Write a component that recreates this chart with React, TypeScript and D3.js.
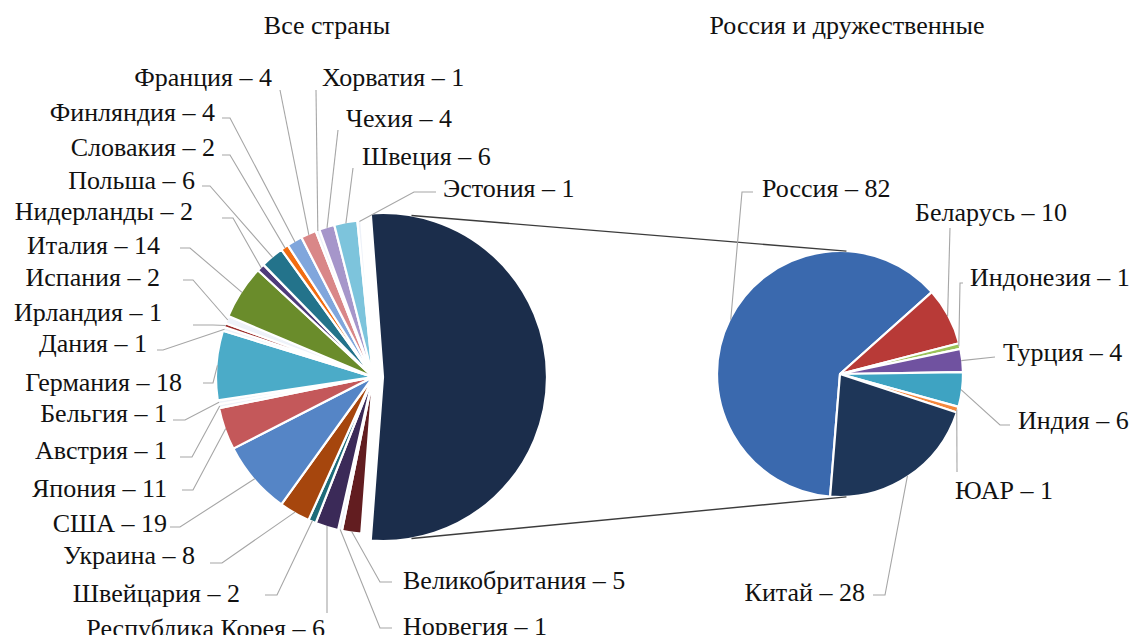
import { useEffect, useRef } from 'react';
import * as d3 from 'd3';

// Все страны (кроме России и дружественных), по часовой стрелке от нижней точки
const allNames = ['Великобритания', 'Норвегия', 'Республика Корея', 'Швейцария', 'Украина', 'США', 'Япония',
  'Австрия', 'Бельгия', 'Германия', 'Дания', 'Ирландия', 'Испания', 'Италия', 'Нидерланды', 'Польша',
  'Словакия', 'Финляндия', 'Франция', 'Хорватия', 'Чехия', 'Швеция', 'Эстония'];
const allValues = [5, 1, 6, 2, 8, 19, 11, 1, 1, 18, 1, 1, 2, 14, 2, 6, 2, 4, 4, 1, 4, 6, 1];

// Россия и дружественные
const friendNames = ['Россия', 'Беларусь', 'Индонезия', 'Турция', 'Индия', 'ЮАР', 'Китай'];
const friendValues = [82, 10, 1, 4, 6, 1, 28];

const titles = ['Все страны', 'Россия и дружественные'];

const LIGHT = '#eef2f9';
const allColors: Record<string, string> = {
  'Великобритания': '#621d20', 'Норвегия': LIGHT, 'Республика Корея': '#3b2a58', 'Швейцария': '#1d6b79',
  'Украина': '#a6460d', 'США': '#5585c6', 'Япония': '#c4585a', 'Австрия': LIGHT, 'Бельгия': LIGHT,
  'Германия': '#4babc8', 'Дания': LIGHT, 'Ирландия': '#9b2d2b', 'Испания': LIGHT, 'Италия': '#6a8c2b',
  'Нидерланды': '#4e3b7a', 'Польша': '#23738b', 'Словакия': '#f26c10', 'Финляндия': '#80a6dc',
  'Франция': '#d98788', 'Хорватия': LIGHT, 'Чехия': '#a696ca', 'Швеция': '#7dc4dc', 'Эстония': LIGHT,
};
const otherColor = '#1b2d4b';
const friendColors: Record<string, string> = {
  'Россия': '#3a69ae', 'Беларусь': '#b83a37', 'Индонезия': '#9bc35a', 'Турция': '#7052a0',
  'Индия': '#3ea3c2', 'ЮАР': '#f5883d', 'Китай': '#1e3658',
};

// расположение подписей: [x текста, y центра, привязка, начало выноски x, y, длина полочки]
const labelLayout: Record<string, [number, number, string, number, number, number]> = {
  'Франция': [272, 77, 'end', 280, 90, 0],
  'Хорватия': [322, 77, 'start', 316, 90, 0],
  'Финляндия': [215, 112, 'end', 222, 118, 8],
  'Чехия': [346, 118, 'start', 338, 130, 0],
  'Словакия': [215, 147, 'end', 222, 155, 8],
  'Швеция': [362, 156, 'start', 353, 168, 0],
  'Польша': [195, 180, 'end', 202, 186, 8],
  'Эстония': [443, 188, 'start', 436, 192, -22],
  'Нидерланды': [193, 211, 'end', 222, 218, 11],
  'Италия': [160, 245, 'end', 180, 248, 10],
  'Испания': [160, 277, 'end', 183, 280, 10],
  'Ирландия': [162, 312, 'end', 193, 325, 20],
  'Дания': [147, 343, 'end', 157, 350, 6],
  'Германия': [182, 382, 'end', 203, 383, 10],
  'Бельгия': [167, 413, 'end', 173, 420, 12],
  'Австрия': [167, 450, 'end', 180, 457, 12],
  'Япония': [167, 488, 'end', 182, 490, 11],
  'США': [167, 523, 'end', 170, 527, 10],
  'Украина': [195, 555, 'end', 210, 563, 12],
  'Швейцария': [240, 593, 'end', 265, 595, 12],
  'Республика Корея': [325, 628, 'end', 327, 613, 0],
  'Великобритания': [403, 580, 'start', 392, 582, -12],
  'Норвегия': [403, 626, 'start', 392, 628, -12],
  'Россия': [762, 188, 'start', 753, 192, -11],
  'Беларусь': [915, 212, 'start', 950, 228, 0],
  'Индонезия': [970, 277, 'start', 963, 283, -3],
  'Турция': [1003, 352, 'start', 995, 357, 0],
  'Индия': [1018, 420, 'start', 1010, 425, -10],
  'ЮАР': [955, 490, 'start', 957, 472, 0],
  'Китай': [865, 592, 'end', 873, 595, 12],
};

const FONT = "'Liberation Serif', 'Times New Roman', serif";
const FONT_SIZE = 26;

const PieOfPie = () => {
  const ref = useRef<SVGSVGElement>(null);

  useEffect(() => {
    if (!ref.current) return;
    const svg = d3.select(ref.current);
    svg.selectAll('*').remove();

    const deg = Math.PI / 180;
    const friendTotal = d3.sum(friendValues);

    // --- Левая диаграмма ---
    const cL = { x: 373, y: 377 };
    const rL = 157;
    const rDark = 164;
    const darkShift = 10;

    const leftData = [{ name: '__other', value: friendTotal },
      ...allNames.map((n, i) => ({ name: n, value: allValues[i] }))];
    const leftTotal = d3.sum(leftData, d => d.value);
    const darkAngle = (friendTotal / leftTotal) * 2 * Math.PI;
    const startL = Math.PI / 2 - darkAngle / 2;

    const pieL = d3.pie<{ name: string; value: number }>().sort(null).value(d => d.value)
      .startAngle(startL).endAngle(startL + 2 * Math.PI);
    const arcsL = pieL(leftData);

    const gL = svg.append('g');
    const arcL = d3.arc<any>().innerRadius(0).outerRadius(rL);
    const arcDark = d3.arc<any>().innerRadius(0).outerRadius(rDark);

    arcsL.forEach(a => {
      const isOther = a.data.name === '__other';
      gL.append('path')
        .attr('transform', `translate(${cL.x + (isOther ? darkShift : 0)},${cL.y})`)
        .attr('d', (isOther ? arcDark : arcL)(a) as string)
        .attr('fill', isOther ? otherColor : allColors[a.data.name])
        .attr('stroke', 'white').attr('stroke-width', 2.2).attr('stroke-linejoin', 'round');
    });

    // --- Правая диаграмма ---
    const cR = { x: 840, y: 374 };
    const rR = 123;
    const startR = 184.6 * deg;
    const pieR = d3.pie<number>().sort(null).startAngle(startR).endAngle(startR + 2 * Math.PI);
    const arcsR = pieR(friendValues);
    const arcR = d3.arc<any>().innerRadius(0).outerRadius(rR);
    const gR = svg.append('g').attr('transform', `translate(${cR.x},${cR.y})`);
    arcsR.forEach((a, i) => {
      gR.append('path').attr('d', arcR(a) as string)
        .attr('fill', friendColors[friendNames[i]])
        .attr('stroke', 'white').attr('stroke-width', 2.2).attr('stroke-linejoin', 'round');
    });

    // --- Соединительные линии ---
    const pt = (cx: number, cy: number, r: number, a: number) => [cx + r * Math.sin(a), cy - r * Math.cos(a)];
    const dcx = cL.x + darkShift;
    const [t1x, t1y] = pt(dcx, cL.y, rDark, 10 * deg);
    const [b1x, b1y] = pt(dcx, cL.y, rDark, 170 * deg);
    const [t2x, t2y] = pt(cR.x, cR.y, rR, 3 * deg);
    const [b2x, b2y] = pt(cR.x, cR.y, rR, 177 * deg);
    svg.append('line').attr('x1', t1x).attr('y1', t1y).attr('x2', t2x).attr('y2', t2y)
      .attr('stroke', '#3c3c3c').attr('stroke-width', 1.4);
    svg.append('line').attr('x1', b1x).attr('y1', b1y).attr('x2', b2x).attr('y2', b2y)
      .attr('stroke', '#3c3c3c').attr('stroke-width', 1.4);

    // --- Подписи и выноски ---
    const labels = svg.append('g');
    const drawLabel = (name: string, value: number, tip: number[]) => {
      const [tx, ty, anchor, lx, ly, shelf] = labelLayout[name];
      const path = d3.path();
      path.moveTo(lx, ly);
      if (shelf !== 0) path.lineTo(lx + shelf, ly);
      path.lineTo(tip[0], tip[1]);
      labels.append('path').attr('d', path.toString())
        .attr('fill', 'none').attr('stroke', '#a6a6a6').attr('stroke-width', 1.1);
      labels.append('text')
        .attr('x', tx).attr('y', ty).attr('dy', '0.35em')
        .attr('text-anchor', anchor)
        .attr('font-family', FONT).attr('font-size', FONT_SIZE).attr('fill', '#111')
        .text(`${name} – ${value}`);
    };

    arcsL.forEach(a => {
      if (a.data.name === '__other') return;
      const mid = (a.startAngle + a.endAngle) / 2;
      drawLabel(a.data.name, a.data.value, pt(cL.x, cL.y, rL - 1, mid));
    });
    arcsR.forEach((a, i) => {
      const mid = (a.startAngle + a.endAngle) / 2;
      drawLabel(friendNames[i], friendValues[i], pt(cR.x, cR.y, rR - 1, mid));
    });

    // --- Заголовки ---
    [[327, titles[0]], [847, titles[1]]].forEach(([x, t]) => {
      svg.append('text').attr('x', x as number).attr('y', 25).attr('dy', '0.35em')
        .attr('text-anchor', 'middle')
        .attr('font-family', FONT).attr('font-size', FONT_SIZE).attr('fill', '#111')
        .text(t as string);
    });
  }, []);

  return <svg ref={ref} width={1139} height={643} style={{ display: 'block', background: 'white' }} />;
};

export default function App() {
  return (
    <div style={{ margin: -8, width: 1139, height: 643, background: 'white' }}>
      <PieOfPie />
    </div>
  );
}
